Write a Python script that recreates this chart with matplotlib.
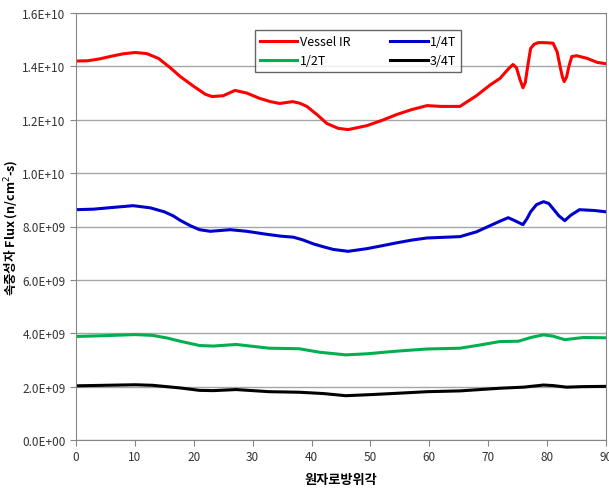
import numpy as np
import matplotlib
matplotlib.use('Agg')
import matplotlib.pyplot as plt
from matplotlib.ticker import FuncFormatter

plt.rcParams['font.family'] = ['Noto Sans CJK KR', 'DejaVu Sans']

# Vessel IR
x_ir = [0, 2, 4, 6, 8, 10, 12, 14, 16, 17.7, 20, 22, 23.1, 25, 27, 29, 31.2, 33, 34.6,
        36.8, 38, 39.2, 41, 42.6, 44.5, 46.2, 49.4, 52, 54.5, 57, 59.6, 62, 65.2, 68,
        70.3, 72, 73.4, 74.2, 74.8, 75.4, 75.9, 76.3, 76.7, 77.2, 77.8, 78.5, 79.5, 81,
        81.7, 82.2, 82.6, 82.9, 83.3, 83.7, 84.2, 85, 86.8, 88.5, 90]
y_ir = [1.42, 1.421, 1.428, 1.438, 1.447, 1.452, 1.448, 1.43, 1.395, 1.362, 1.325,
        1.295, 1.287, 1.29, 1.31, 1.30, 1.28, 1.268, 1.261, 1.268, 1.262, 1.25, 1.218,
        1.186, 1.168, 1.163, 1.178, 1.198, 1.22, 1.238, 1.253, 1.25, 1.25, 1.29, 1.33,
        1.355, 1.39, 1.407, 1.395, 1.35, 1.32, 1.34, 1.40, 1.467, 1.483, 1.489, 1.489,
        1.487, 1.455, 1.40, 1.36, 1.343, 1.36, 1.40, 1.437, 1.44, 1.43, 1.415, 1.41]

# 1/4T
x_q1 = [0, 3, 6, 9.7, 12.6, 15, 16.5, 17.7, 19.5, 21, 22.8, 26.2, 29, 32, 34.7, 36.9,
        38.5, 40.3, 42, 43.7, 46.2, 49.4, 52, 54.5, 57, 59.6, 65.2, 68, 70.3, 72, 73.4,
        74.5, 75.9, 76.6, 77.2, 78.2, 79.4, 80.3, 81, 82, 83, 84, 85.5, 88, 90]
y_q1 = [8.63, 8.65, 8.71, 8.78, 8.70, 8.55, 8.40, 8.23, 8.02, 7.88, 7.82, 7.88, 7.82,
        7.72, 7.64, 7.60, 7.50, 7.35, 7.24, 7.14, 7.07, 7.17, 7.28, 7.39, 7.49, 7.57,
        7.62, 7.80, 8.03, 8.20, 8.33, 8.22, 8.07, 8.30, 8.55, 8.82, 8.93, 8.86, 8.67,
        8.40, 8.22, 8.42, 8.63, 8.60, 8.55]

# 1/2T
x_half = [0, 5, 10, 13, 15.5, 17.7, 21, 23.3, 27.2, 32.8, 37.9, 41.3, 45.8, 49.4, 54.5,
          59.6, 65.2, 68.6, 72, 75.1, 77.4, 79.4, 81, 83, 86.1, 90]
y_half = [3.88, 3.91, 3.95, 3.92, 3.82, 3.70, 3.54, 3.52, 3.58, 3.44, 3.42, 3.29, 3.19,
          3.23, 3.33, 3.41, 3.44, 3.56, 3.69, 3.70, 3.85, 3.94, 3.89, 3.76, 3.84, 3.83]

# 3/4T
x_q3 = [0, 5, 10, 13, 17.7, 21, 23.3, 27.2, 32.8, 37.9, 42, 45.8, 50, 54.5, 59.6,
        65.2, 72, 76, 79.4, 81, 83.3, 86, 90]
y_q3 = [2.03, 2.05, 2.07, 2.05, 1.95, 1.86, 1.85, 1.89, 1.81, 1.79, 1.74, 1.66, 1.70,
        1.75, 1.81, 1.84, 1.94, 1.98, 2.06, 2.04, 1.98, 2.00, 2.01]

fig = plt.figure(figsize=(6.09, 4.89), dpi=100)
ax = fig.add_axes([76 / 609, 1 - 441 / 489, 530 / 609, 427 / 489])

ax.plot(x_ir, np.array(y_ir) * 1e10, color='#FF0000', lw=2.2, label='Vessel IR')
ax.plot(x_half, np.array(y_half) * 1e9, color='#00B050', lw=2.2, label='1/2T')
ax.plot(x_q1, np.array(y_q1) * 1e9, color='#0000CC', lw=2.2, label='1/4T')
ax.plot(x_q3, np.array(y_q3) * 1e9, color='#000000', lw=2.2, label='3/4T')

ax.set_xlim(0, 90)
ax.set_ylim(0, 1.6e10)
ax.set_xticks(range(0, 91, 10))
ax.set_yticks(np.arange(0, 1.61e10, 2e9))
ax.yaxis.set_major_formatter(FuncFormatter(lambda v, p: '%.1E' % v))
ax.grid(axis='y', color='#A6A6A6', lw=1)
ax.set_axisbelow(True)
for s in ax.spines.values():
    s.set_color('#868686')
ax.tick_params(colors='#868686', labelcolor='#333333', labelsize=8.5, length=4)

ax.set_xlabel('원자로방위각', fontsize=9.5, fontweight='bold', labelpad=6)
ax.set_ylabel('속중성자 Flux (n/cm$^{2}$-s)', fontsize=9, fontweight='bold', labelpad=1)

leg = ax.legend(ncol=2, loc='upper center', bbox_to_anchor=(0.532, 0.975),
                fontsize=9, frameon=True, fancybox=False, handlelength=3,
                handletextpad=0.2, columnspacing=3.2, borderpad=0.4)
leg.get_frame().set_edgecolor('#404040')
leg.get_frame().set_linewidth(1)

fig.savefig('out.png', dpi=100)
